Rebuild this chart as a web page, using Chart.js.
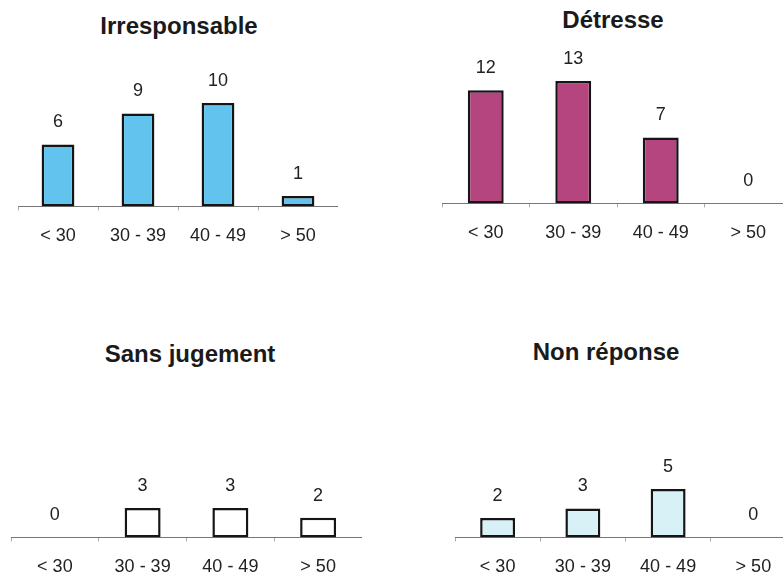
<!DOCTYPE html>
<html>
<head>
<meta charset="utf-8">
<script src="https://cdn.jsdelivr.net/npm/chart.js@4"></script>
<style>
  body { margin: 0; width: 783px; height: 574px; overflow: hidden; background: #fff; position: relative; }
  .box { position: absolute; }
  .title { position: absolute; width: 300px; text-align: center; line-height: 28px;
           font: bold 24px "Liberation Sans", Arial, sans-serif; color: #1a1a1a; }
</style>
</head>
<body>
<div class="title" style="left:29px; top:12px;">Irresponsable</div>
<div class="title" style="left:463px; top:6px;">Détresse</div>
<div class="title" style="left:40px; top:340px;">Sans jugement</div>
<div class="title" style="left:456px; top:338px;">Non réponse</div>

<div class="box" style="left:18px; top:40px; width:320px; height:222px;"><canvas id="c1"></canvas></div>
<div class="box" style="left:442px; top:30px; width:350px; height:229px;"><canvas id="c2"></canvas></div>
<div class="box" style="left:11px; top:440px; width:351px; height:153px;"><canvas id="c3"></canvas></div>
<div class="box" style="left:455px; top:440px; width:341px; height:153px;"><canvas id="c4"></canvas></div>

<script>
// categories and counts per group
const ageGroups = ["< 30", "30 - 39", "40 - 49", "> 50"];
const irresponsable = [6, 9, 10, 1];
const detresse = [12, 13, 7, 0];
const sansJugement = [0, 3, 3, 2];
const nonReponse = [2, 3, 5, 0];

const FONT = "'Liberation Sans', Arial, sans-serif";

// numbers above each bar
const valueLabels = {
  id: "valueLabels",
  afterDatasetsDraw(chart) {
    const ctx = chart.ctx;
    ctx.save();
    ctx.font = "18px " + FONT;
    ctx.fillStyle = "#222";
    ctx.textAlign = "center";
    ctx.textBaseline = "middle";
    const meta = chart.getDatasetMeta(0);
    meta.data.forEach((bar, i) => {
      ctx.fillText(String(chart.data.datasets[0].data[i]), bar.x, bar.y - 22);
    });
    ctx.restore();
  }
};

function makeChart(id, values, fill, plotHeight, pxPerUnit) {
  new Chart(document.getElementById(id), {
    type: "bar",
    data: {
      labels: ageGroups,
      datasets: [{
        data: values,
        backgroundColor: fill,
        borderColor: "#151515",
        borderWidth: 2.5,
        borderSkipped: false,
        barPercentage: 0.41,
        categoryPercentage: 1
      }]
    },
    options: {
      responsive: true,
      maintainAspectRatio: false,
      animation: false,
      layout: { padding: { top: 20, left: 0, right: 0, bottom: 0 } },
      plugins: { legend: { display: false }, tooltip: { enabled: false } },
      scales: {
        y: { display: false, min: 0, max: plotHeight / pxPerUnit },
        x: {
          border: { display: true, color: "#777", width: 1 },
          grid: { drawOnChartArea: false, drawTicks: true, tickLength: 4, color: "#aaa" },
          ticks: { color: "#222", padding: 15, font: { size: 18, family: FONT } }
        }
      }
    },
    plugins: [valueLabels]
  });
}

makeChart("c1", irresponsable, "#62c4ee", 146, 10.3);
makeChart("c2", detresse, "#b5457f", 153, 9.4);
makeChart("c3", sansJugement, "#ffffff", 76, 9.6);
makeChart("c4", nonReponse, "#d8f1f7", 76, 9.5);
</script>
</body>
</html>
